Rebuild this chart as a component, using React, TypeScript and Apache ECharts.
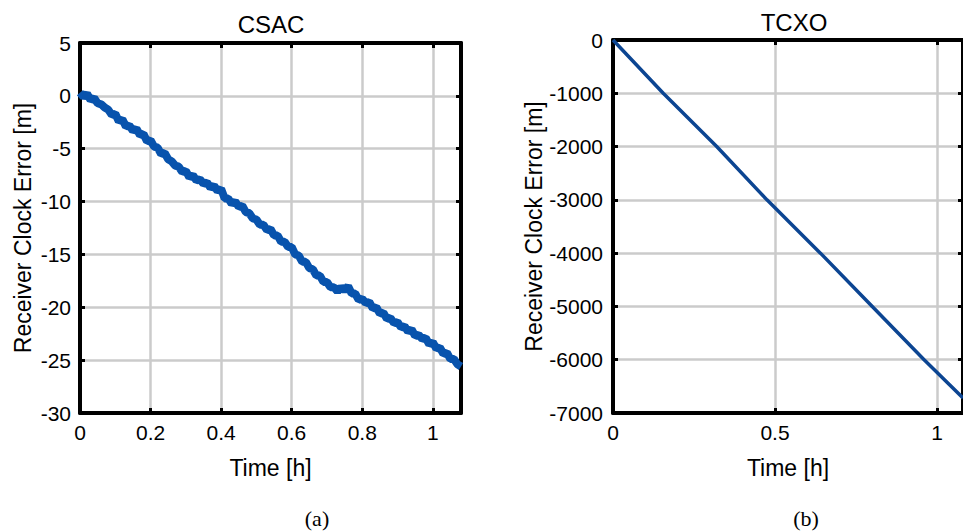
import React, { useEffect, useRef } from "react";
import * as echarts from "echarts";

const titles = ["CSAC", "TCXO"];
const panelLabels = ["(a)", "(b)"];
const xName = "Time [h]";
const yName = "Receiver Clock Error [m]";

// CSAC receiver clock error [m] vs time [h]
const csacTime = [
  0.0, 0.01, 0.02, 0.03, 0.04, 0.05, 0.06, 0.07, 0.08, 0.09,
  0.1, 0.11, 0.12, 0.13, 0.14, 0.15, 0.16, 0.17, 0.18, 0.19,
  0.2, 0.21, 0.22, 0.23, 0.24, 0.25, 0.26, 0.27, 0.28, 0.29,
  0.3, 0.31, 0.32, 0.33, 0.34, 0.35, 0.36, 0.37, 0.38, 0.39,
  0.4, 0.41, 0.42, 0.43, 0.44, 0.45, 0.46, 0.47, 0.48, 0.49,
  0.5, 0.51, 0.52, 0.53, 0.54, 0.55, 0.56, 0.57, 0.58, 0.59,
  0.6, 0.61, 0.62, 0.63, 0.64, 0.65, 0.66, 0.67, 0.68, 0.69,
  0.7, 0.71, 0.72, 0.73, 0.74, 0.75, 0.76, 0.77, 0.78, 0.79,
  0.8, 0.81, 0.82, 0.83, 0.84, 0.85, 0.86, 0.87, 0.88, 0.89,
  0.9, 0.91, 0.92, 0.93, 0.94, 0.95, 0.96, 0.97, 0.98, 0.99,
  1.0, 1.01, 1.02, 1.03, 1.04, 1.05, 1.06, 1.07, 1.08,
];
const csacError = [
  0.3, -0.1, 0.2, -0.4, -0.2, -0.7, -0.8, -1.1, -1.3, -1.8,
  -1.7, -2.4, -2.2, -2.9, -2.8, -3.3, -3.1, -3.7, -3.6, -4.3,
  -4.2, -4.8, -4.9, -5.5, -5.4, -6.0, -6.2, -6.6, -6.7, -7.2,
  -7.1, -7.7, -7.5, -8.0, -7.9, -8.3, -8.2, -8.7, -8.5, -9.0,
  -8.8, -9.7, -9.7, -10.2, -10.0, -10.5, -10.4, -11.0, -11.1, -11.6,
  -11.7, -12.2, -12.2, -12.7, -12.6, -13.2, -13.2, -13.8, -13.8, -14.3,
  -14.3, -15.0, -15.1, -15.7, -15.7, -16.3, -16.4, -17.0, -17.0, -17.6,
  -17.6, -18.1, -18.1, -18.5, -18.1, -18.4, -18.0, -18.7, -18.7, -19.3,
  -19.2, -19.6, -19.5, -20.1, -20.0, -20.6, -20.5, -21.1, -21.0, -21.5,
  -21.4, -21.9, -21.8, -22.3, -22.1, -22.7, -22.6, -23.0, -22.9, -23.5,
  -23.3, -23.9, -23.8, -24.4, -24.3, -24.9, -24.9, -25.4, -25.6,
];

// TCXO receiver clock error [m] vs time [h]
const tcxoTime = [0, 0.155, 0.32, 0.475, 0.64, 0.8, 0.96, 1.08];
const tcxoError = [0, -1000, -2000, -3000, -4000, -5000, -6000, -6720];

const csacXTicks = { min: 0, max: 1.08, interval: 0.2 };
const csacYTicks = { min: -30, max: 5, interval: 5 };
const tcxoXTicks = { min: 0, max: 1.08, interval: 0.5 };
const tcxoYTicks = { min: -7000, max: 0, interval: 1000 };

export default function App() {
  const ref = useRef<HTMLDivElement>(null);
  useEffect(() => {
    const chart = echarts.init(ref.current!, null, { renderer: "svg" });
    const font = "'Liberation Sans', Arial, Helvetica, sans-serif";
    const black = "#000";
    const gridColor = "#cbcbcb";
    const fmt = (v: number) => String(Math.round(v * 10) / 10);

    const axisLine = { show: true, onZero: false, lineStyle: { color: black, width: 4 } };
    const axisTick = { show: true, inside: true, length: 5, lineStyle: { color: black, width: 3 } };
    const labelStyle = { color: black, fontSize: 21, fontFamily: font };
    const nameStyle = { color: black, fontSize: 23, fontFamily: font };

    const xMain = (gridIndex: number, t: any) => ({
      type: "value", gridIndex, position: "bottom", ...t,
      axisLine, axisTick,
      axisLabel: { ...labelStyle, margin: 9, showMaxLabel: false, formatter: fmt },
      splitLine: { show: true, lineStyle: { color: gridColor, width: 2.5 } },
      name: xName, nameLocation: "middle", nameGap: 43, nameTextStyle: nameStyle,
    });
    const xTop = (gridIndex: number, t: any) => ({
      type: "value", gridIndex, position: "top", ...t,
      axisLine, axisTick, axisLabel: { show: false }, splitLine: { show: false },
    });
    const yMain = (gridIndex: number, t: any, gap: number, margin: number) => ({
      type: "value", gridIndex, position: "left", ...t,
      axisLine, axisTick,
      axisLabel: { ...labelStyle, margin, formatter: fmt },
      splitLine: { show: true, lineStyle: { color: gridColor, width: 2.5 } },
      name: yName, nameLocation: "middle", nameGap: gap, nameTextStyle: nameStyle,
    });
    const yRight = (gridIndex: number, t: any) => ({
      type: "value", gridIndex, position: "right", ...t,
      axisLine, axisTick, axisLabel: { show: false }, splitLine: { show: false },
    });

    chart.setOption({
      animation: false,
      backgroundColor: "#fff",
      grid: [
        { left: 80, top: 43, width: 381, height: 370 },
        { left: 613, top: 40, width: 361, height: 373 },
      ],
      xAxis: [xMain(0, csacXTicks), xTop(0, csacXTicks), xMain(1, tcxoXTicks), xTop(1, tcxoXTicks)],
      yAxis: [yMain(0, csacYTicks, 46, 9), yRight(0, csacYTicks), yMain(1, tcxoYTicks, 66, 10), yRight(1, tcxoYTicks)],
      series: [
        {
          type: "line", xAxisIndex: 0, yAxisIndex: 0, showSymbol: false,
          data: csacTime.map((t, i) => [t, csacError[i]]),
          lineStyle: { color: "#0853ad", width: 8 }, z: 3,
        },
        {
          type: "line", xAxisIndex: 2, yAxisIndex: 2, showSymbol: false,
          data: tcxoTime.map((t, i) => [t, tcxoError[i]]),
          lineStyle: { color: "#0c4592", width: 3.5 }, z: 3,
        },
      ],
      graphic: [
        { type: "text", x: 271, y: 24, style: { text: titles[0], fill: black, font: `24px ${font}`, textAlign: "center", textVerticalAlign: "middle" } },
        { type: "text", x: 794, y: 22, style: { text: titles[1], fill: black, font: `24px ${font}`, textAlign: "center", textVerticalAlign: "middle" } },
        { type: "text", x: 317, y: 518, style: { text: panelLabels[0], fill: black, font: `22px 'Liberation Serif', 'Times New Roman', serif`, textAlign: "center", textVerticalAlign: "middle" } },
        { type: "text", x: 806, y: 518, style: { text: panelLabels[1], fill: black, font: `22px 'Liberation Serif', 'Times New Roman', serif`, textAlign: "center", textVerticalAlign: "middle" } },
      ],
    });
    return () => chart.dispose();
  }, []);
  return (
    <div
      ref={ref}
      style={{ position: "fixed", left: 0, top: 0, width: 963, height: 531, background: "#fff" }}
    />
  );
}
